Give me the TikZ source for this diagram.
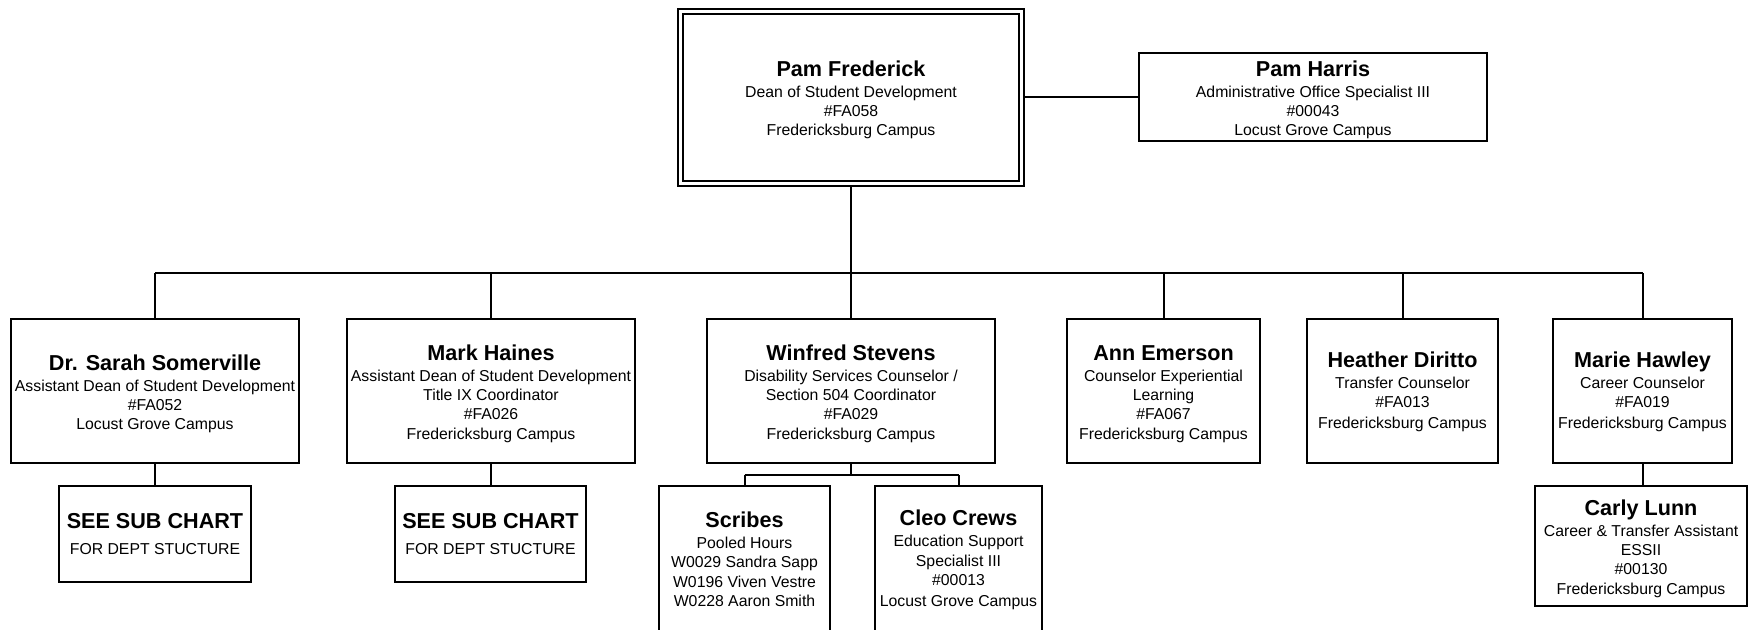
\documentclass[tikz,border=0pt]{standalone}
\usepackage{fontspec}
\setmainfont{Liberation Sans}
\usetikzlibrary{backgrounds}
\newcommand\nmf{\fontsize{10.8}{13}\selectfont\bfseries}
\newcommand\pname[1]{{\nmf\rule{0pt}{10.4pt}#1}\\[0.9pt]}
\newcommand\xdepth[1]{\rule[-#1]{0pt}{#1}}
\begin{document}
\begin{tikzpicture}[x=0.5pt,y=-0.5pt,
  box/.style={draw=black, line width=1pt, fill=white, align=center, inner sep=1pt,
    font=\fontsize{7.9}{9.6}\selectfont},
  topbox/.style={box, double, double distance=1.5pt},
  conn/.style={draw=black, line width=1pt}]
\useasboundingbox (0,0) rectangle (1748,629);

\node[topbox, minimum width=170.5pt, minimum height=86pt] (top) at (851,97)
  {\pname{Pam Frederick} Dean of Student Development\\ \#FA058\\ Fredericksburg Campus};
\node[box, minimum width=174pt, minimum height=42pt] (harris) at (1313,97)
  {\pname{Pam Harris} Administrative Office Specialist III\\ \#00043\\ Locust Grove Campus};

\node[box, minimum width=144pt, minimum height=72pt] (sarah) at (155,391)
  {\pname{Dr. Sarah Somerville} Assistant Dean of Student Development\\ \#FA052\\ Locust Grove Campus};
\node[box, minimum width=144pt, minimum height=72pt] (mark) at (491,391)
  {\pname{Mark Haines} Assistant Dean of Student Development\\ Title IX Coordinator\\ \#FA026\\ Fredericksburg Campus};
\node[box, minimum width=144pt, minimum height=72pt] (winfred) at (851,391)
  {\pname{Winfred Stevens} Disability Services Counselor /\\ Section 504 Coordinator\\ \#FA029\\ Fredericksburg Campus};
\node[box, minimum width=96.5pt, minimum height=72pt] (ann) at (1163.5,391)
  {\pname{Ann Emerson} Counselor Experiential\\ Learning\\ \#FA067\\ Fredericksburg Campus};
\node[box, minimum width=95.5pt, minimum height=72pt] (heather) at (1402.5,391)
  {\pname{Heather Diritto} Transfer Counselor\\ \#FA013\\[1pt] Fredericksburg Campus\xdepth{3.6pt}};
\node[box, minimum width=89.5pt, minimum height=72pt] (marie) at (1642.5,391)
  {\pname{Marie Hawley} Career Counselor\\ \#FA019\\[1pt] Fredericksburg Campus\xdepth{3.6pt}};

\node[box, minimum width=96pt, minimum height=48pt] (ssca) at (155,534)
  {{\nmf SEE SUB CHART}\\[3.4pt] FOR DEPT STUCTURE};
\node[box, minimum width=95.5pt, minimum height=48pt] (sscb) at (490.5,534)
  {{\nmf SEE SUB CHART}\\[3.4pt] FOR DEPT STUCTURE};
\node[box, minimum width=85.5pt, minimum height=75pt] (scribes) at (744.5,561)
  {\pname{Scribes} Pooled Hours\\ W0029 Sandra Sapp\\ W0196 Viven Vestre\\ W0228 Aaron Smith\xdepth{4.5pt}};
\node[box, minimum width=83.5pt, minimum height=75pt] (cleo) at (958.5,561)
  {\pname{Cleo Crews} Education Support\\ Specialist III\\ \#00013\\[1.2pt] Locust Grove Campus\xdepth{5pt}};
\node[box, minimum width=106pt, minimum height=60pt] (carly) at (1641,546)
  {\pname{Carly Lunn} Career \& Transfer Assistant\\ ESSII\\ \#00130\\ Fredericksburg Campus};

\coordinate (bus) at (0,273);
\coordinate (wbus) at (0,475);

\begin{scope}[on background layer]
  \fill[white] (0,0) rectangle (1748,629);
  \draw[conn] (top.east) -- (harris.west);
  \draw[conn] (top.south) -- (top.south |- bus);
  \draw[conn] (sarah.north |- bus) -- (marie.north |- bus);
  \foreach \n in {sarah,mark,winfred,ann,heather,marie}
    \draw[conn] (\n.north) -- (\n.north |- bus);
  \draw[conn] (sarah.south) -- (ssca.north);
  \draw[conn] (mark.south) -- (mark.south |- sscb.north);
  \draw[conn] (winfred.south) -- (winfred.south |- wbus);
  \draw[conn] (scribes.north |- wbus) -- (cleo.north |- wbus);
  \draw[conn] (scribes.north |- wbus) -- (scribes.north);
  \draw[conn] (cleo.north |- wbus) -- (cleo.north);
  \draw[conn] (marie.south) -- (marie.south |- carly.north);
\end{scope}
\end{tikzpicture}
\end{document}
